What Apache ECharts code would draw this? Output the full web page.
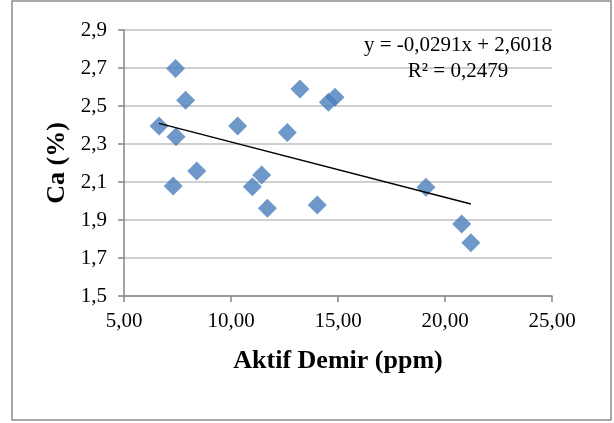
<!DOCTYPE html>
<html>
<head>
<meta charset="utf-8">
<script src="https://cdn.jsdelivr.net/npm/echarts@6/dist/echarts.min.js"></script>
<style>
html,body{margin:0;padding:0;background:#fff;}
#c{width:614px;height:423px;}
</style>
</head>
<body>
<div id="c"></div>
<script>
// Data
const aktifDemir = [6.64, 7.41, 7.88, 7.43, 10.31, 12.63, 13.22, 14.55, 14.86, 7.30, 8.40, 11.00, 11.43, 11.70, 14.03, 19.11, 20.78, 21.21];
const caPercent  = [2.395, 2.698, 2.530, 2.338, 2.395, 2.360, 2.590, 2.520, 2.546, 2.079, 2.158, 2.075, 2.137, 1.962, 1.979, 2.072, 1.879, 1.780];
const trendSlope = -0.0291;
const trendIntercept = 2.6018;
const equationText = ["y = -0,0291x + 2,6018", "R² = 0,2479"];
const xTitle = "Aktif Demir (ppm)";
const yTitle = "Ca (%)";

const points = aktifDemir.map((x, i) => [x, caPercent[i]]);
const xMinData = Math.min(...aktifDemir), xMaxData = Math.max(...aktifDemir);
const trend = [[xMinData, trendSlope * xMinData + trendIntercept], [xMaxData, trendSlope * xMaxData + trendIntercept]];

const serif = '"Liberation Serif", "Times New Roman", serif';
const chart = echarts.init(document.getElementById('c'));
chart.setOption({
  animation: false,
  backgroundColor: '#fff',
  grid: { left: 124, right: 62, top: 30, bottom: 127, containLabel: false },
  xAxis: {
    type: 'value', min: 5, max: 25, interval: 5,
    name: xTitle, nameLocation: 'middle', nameGap: 52,
    nameTextStyle: { fontFamily: serif, fontSize: 26, fontWeight: 'bold', color: '#000' },
    axisLine: { show: true, lineStyle: { color: '#868686', width: 1.5 } },
    axisTick: { show: true, inside: false, length: 6, lineStyle: { color: '#868686', width: 1.5 } },
    axisLabel: { fontFamily: serif, fontSize: 21, color: '#000', margin: 15,
      formatter: v => v.toFixed(2).replace('.', ',') },
    splitLine: { show: false }
  },
  yAxis: {
    type: 'value', min: 1.5, max: 2.9, interval: 0.2,
    name: yTitle, nameLocation: 'middle', nameGap: 54, nameRotate: 90,
    nameTextStyle: { fontFamily: serif, fontSize: 26, fontWeight: 'bold', color: '#000' },
    axisLine: { show: true, lineStyle: { color: '#868686', width: 1.5 } },
    axisTick: { show: true, inside: false, length: 6, lineStyle: { color: '#868686', width: 1.5 } },
    axisLabel: { fontFamily: serif, fontSize: 21, color: '#000', margin: 17,
      formatter: v => v.toFixed(1).replace('.', ',') },
    splitLine: { show: true, lineStyle: { color: '#bfbfbf', width: 1.5 } }
  },
  series: [
    {
      type: 'line', data: trend, symbol: 'none', silent: true,
      lineStyle: { color: '#000', width: 1.5 }, z: 3
    },
    {
      type: 'scatter', data: points, symbol: 'diamond', symbolSize: 19,
      itemStyle: { color: '#4a7ebb' }, z: 2
    }
  ],
  graphic: [
    { type: 'rect', shape: { x: 12, y: 1, width: 599, height: 419 },
      style: { fill: 'none', stroke: '#8c8c8c', lineWidth: 1.5 }, silent: true },
    { type: 'text', x: 458, y: 45, style: { text: equationText[0], fontFamily: serif, fontSize: 21,
      fill: '#000', align: 'center', verticalAlign: 'middle' }, z: 10 },
    { type: 'text', x: 458, y: 71, style: { text: equationText[1], fontFamily: serif, fontSize: 21,
      fill: '#000', align: 'center', verticalAlign: 'middle' }, z: 10 }
  ]
});
</script>
</body>
</html>
